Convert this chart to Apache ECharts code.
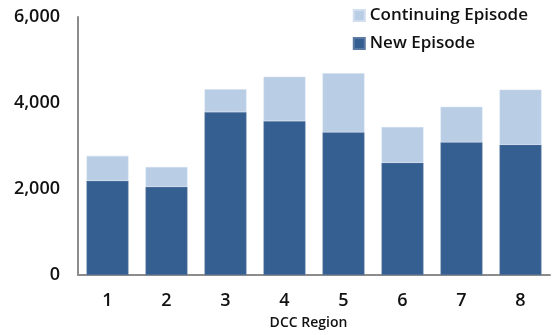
<!DOCTYPE html>
<html>
<head>
<meta charset="utf-8">
<script src="https://cdn.jsdelivr.net/npm/echarts@6/dist/echarts.min.js"></script>
<style>
  html, body { margin: 0; padding: 0; background: #fff; }
  #chart { width: 552px; height: 335px; }
</style>
</head>
<body>
<div id="chart"></div>
<script>
// DCC regions and episode counts
const regions = ['1', '2', '3', '4', '5', '6', '7', '8'];
const newEpisode = [2190, 2050, 3790, 3580, 3320, 2610, 3090, 3030];
const totalEpisode = [2770, 2510, 4320, 4610, 4690, 3440, 3910, 4310];
const continuingEpisode = totalEpisode.map((t, i) => t - newEpisode[i]);
const yTicks = [0, 2000, 4000, 6000];

const FONT = '"Open Sans", "DejaVu Sans", sans-serif';
const chart = echarts.init(document.getElementById('chart'), null, { renderer: 'canvas' });

chart.setOption({
  animation: false,
  textStyle: { fontFamily: FONT },
  grid: { left: 78, right: 2, top: 17, bottom: 60 },
  legend: {
    orient: 'vertical',
    right: 19,
    top: 2,
    itemWidth: 11,
    itemHeight: 11,
    itemGap: 11,
    icon: 'rect',
    data: ['Continuing Episode', 'New Episode'],
    textStyle: { fontSize: 17, fontWeight: 600, color: '#111', fontFamily: FONT }
  },
  xAxis: {
    type: 'category',
    data: regions,
    name: 'DCC Region',
    nameLocation: 'middle',
    nameGap: 41,
    nameTextStyle: { fontSize: 14, fontWeight: 600, color: '#111', fontFamily: FONT, padding: [0, 11, 0, 0] },
    axisLine: { lineStyle: { color: '#8c8c8c', width: 2 } },
    axisTick: { show: false },
    axisLabel: { fontSize: 18, fontWeight: 600, color: '#111', margin: 17, fontFamily: FONT }
  },
  yAxis: {
    type: 'value',
    min: yTicks[0],
    max: yTicks[yTicks.length - 1],
    interval: 2000,
    splitLine: { show: false },
    axisLine: { show: true, lineStyle: { color: '#8c8c8c', width: 2 } },
    axisTick: { show: false },
    axisLabel: {
      fontSize: 18,
      fontWeight: 600,
      color: '#111',
      margin: 18,
      fontFamily: FONT,
      formatter: v => v.toLocaleString('en-US')
    }
  },
  series: [
    {
      name: 'New Episode',
      type: 'bar',
      stack: 'total',
      data: newEpisode,
      barCategoryGap: '29%',
      itemStyle: { color: '#365f91', borderColor: '#5a7aa3', borderWidth: 0.5 }
    },
    {
      name: 'Continuing Episode',
      type: 'bar',
      stack: 'total',
      data: continuingEpisode,
      barCategoryGap: '29%',
      itemStyle: { color: '#b9cde5', borderColor: '#d0deef', borderWidth: 0.5 }
    }
  ]
});
</script>
</body>
</html>
